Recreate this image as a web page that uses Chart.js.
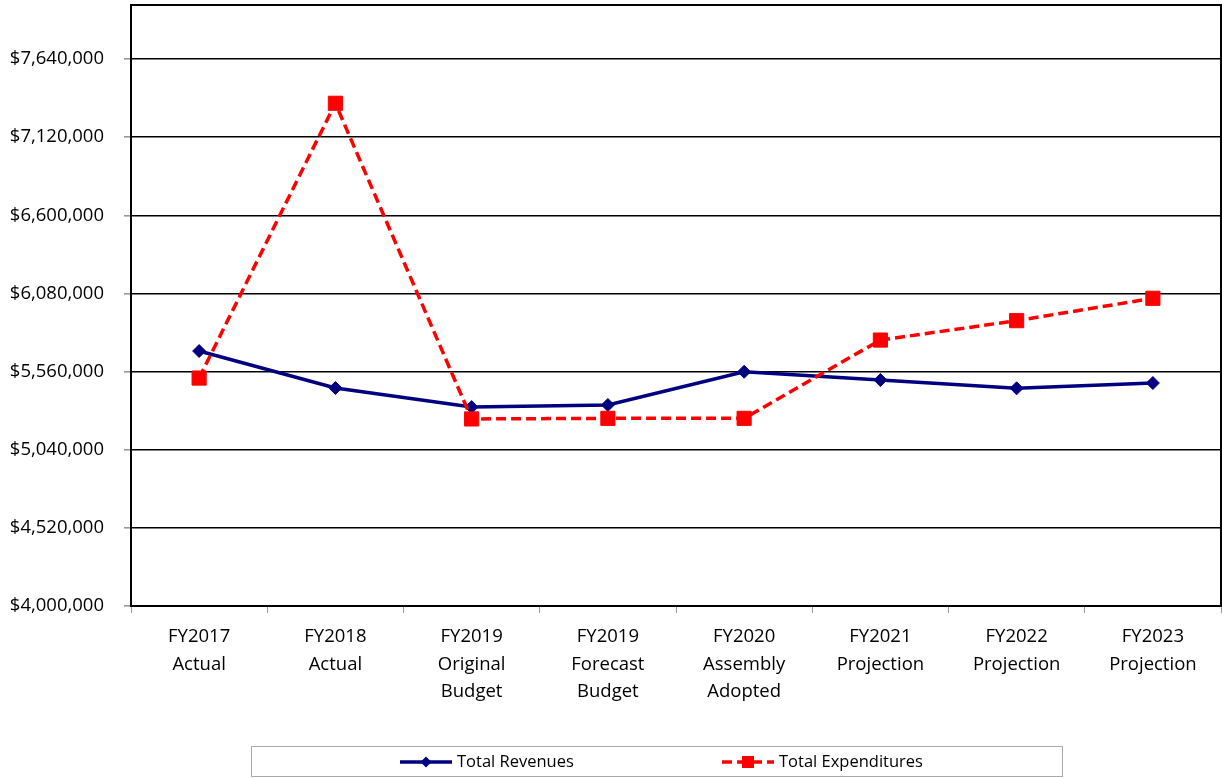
<!DOCTYPE html>
<html>
<head>
<meta charset="utf-8">
<script src="https://cdn.jsdelivr.net/npm/chart.js@4.4.1/dist/chart.umd.min.js"></script>
<style>
    html, body { margin: 0; padding: 0; background: #fff; }
    canvas { display: block; }
</style>
</head>
<body>
<canvas id="budgetChart" width="1222" height="778"></canvas>
<script>
// Chart data
const categories = [
    ['FY2017', 'Actual'],
    ['FY2018', 'Actual'],
    ['FY2019', 'Original', 'Budget'],
    ['FY2019', 'Forecast', 'Budget'],
    ['FY2020', 'Assembly', 'Adopted'],
    ['FY2021', 'Projection'],
    ['FY2022', 'Projection'],
    ['FY2023', 'Projection']
];
const totalRevenues = [5697000, 5451000, 5324000, 5338000, 5559000, 5504000, 5449000, 5484000];
const totalExpenditures = [5517000, 7346000, 5245000, 5249000, 5249000, 5770000, 5899000, 6048000];
const yTickValues = [4000000, 4520000, 5040000, 5560000, 6080000, 6600000, 7120000, 7640000];

const FONT = "'Open Sans', 'Noto Sans', sans-serif";

// Frame around the plot area
const plotFrame = {
    id: 'plotFrame',
    beforeDatasetsDraw(chart) {
        const { ctx, chartArea: a } = chart;
        ctx.save();
        ctx.strokeStyle = '#000';
        ctx.lineWidth = 2;
        ctx.strokeRect(a.left, a.top, a.right - a.left, a.bottom - a.top);
        ctx.restore();
    }
};

// Excel-like legend box with line samples
const boxLegend = {
    id: 'boxLegend',
    afterDraw(chart) {
        const ctx = chart.ctx;
        const y = 762;
        ctx.save();
        ctx.strokeStyle = '#aaa';
        ctx.lineWidth = 1;
        ctx.strokeRect(251.5, 746.5, 811, 30);

        const starts = [400, 722];
        chart.data.datasets.forEach((ds, i) => {
            const x0 = starts[i];
            ctx.strokeStyle = ds.borderColor;
            ctx.lineWidth = ds.borderWidth;
            ctx.setLineDash(ds.borderDash || []);
            ctx.beginPath();
            ctx.moveTo(x0, y);
            ctx.lineTo(x0 + 52, y);
            ctx.stroke();
            ctx.setLineDash([]);

            ctx.fillStyle = ds.pointBackgroundColor;
            const cx = x0 + 26;
            if (ds.pointStyle === 'rectRot') {
                ctx.beginPath();
                ctx.moveTo(cx, y - 5.5);
                ctx.lineTo(cx + 5.5, y);
                ctx.lineTo(cx, y + 5.5);
                ctx.lineTo(cx - 5.5, y);
                ctx.closePath();
                ctx.fill();
            } else {
                ctx.fillRect(cx - 6, y - 6, 12, 12);
            }

            ctx.fillStyle = '#000';
            ctx.font = '16.5px ' + FONT;
            ctx.textBaseline = 'middle';
            ctx.textAlign = 'left';
            ctx.fillText(ds.label, x0 + 57, y);
        });
        ctx.restore();
    }
};

const noPad = (scale) => {
    scale.paddingTop = 0;
    scale.paddingBottom = 0;
    scale.paddingLeft = 0;
    scale.paddingRight = 0;
};

new Chart(document.getElementById('budgetChart'), {
    type: 'line',
    data: {
        labels: categories,
        datasets: [{
            label: 'Total Revenues',
            data: totalRevenues,
            borderColor: '#000080',
            backgroundColor: '#000080',
            borderWidth: 3.5,
            pointStyle: 'rectRot',
            pointRadius: 6.5,
            pointBackgroundColor: '#000080',
            pointBorderColor: '#000080',
            pointBorderWidth: 1,
            tension: 0,
            order: 1
        }, {
            label: 'Total Expenditures',
            data: totalExpenditures,
            borderColor: '#ff0000',
            backgroundColor: '#ff0000',
            borderWidth: 3.5,
            borderDash: [10, 5],
            pointStyle: 'rect',
            pointRadius: 10,
            pointBackgroundColor: '#ff0000',
            pointBorderColor: '#ff0000',
            pointBorderWidth: 1,
            tension: 0,
            order: 0
        }]
    },
    options: {
        responsive: false,
        animation: false,
        layout: {
            autoPadding: false,
            padding: { top: 5, right: 1, bottom: 42, left: 0 }
        },
        plugins: {
            legend: { display: false },
            tooltip: { enabled: false }
        },
        scales: {
            x: {
                offset: true,
                grid: {
                    offset: true,
                    drawOnChartArea: false,
                    tickLength: 7,
                    tickColor: '#999'
                },
                border: { display: false },
                ticks: {
                    color: '#000',
                    padding: 10,
                    maxRotation: 0,
                    autoSkip: false,
                    font: { family: FONT, size: 18.5, lineHeight: 1.49 }
                },
                afterFit(scale) {
                    scale.height = 130;
                    noPad(scale);
                }
            },
            y: {
                min: 4000000,
                max: 8000000,
                grid: {
                    color: '#000',
                    lineWidth: 1.6,
                    tickLength: 7,
                    tickColor: '#999'
                },
                border: { display: false },
                ticks: {
                    color: '#000',
                    padding: 20,
                    font: { family: FONT, size: 18.5 },
                    callback: (value) => '$' + value.toLocaleString('en-US')
                },
                afterBuildTicks(scale) {
                    scale.ticks = yTickValues.map(v => ({ value: v }));
                },
                afterFit(scale) {
                    scale.width = 131;
                    noPad(scale);
                }
            }
        }
    },
    plugins: [plotFrame, boxLegend]
});
</script>
</body>
</html>
